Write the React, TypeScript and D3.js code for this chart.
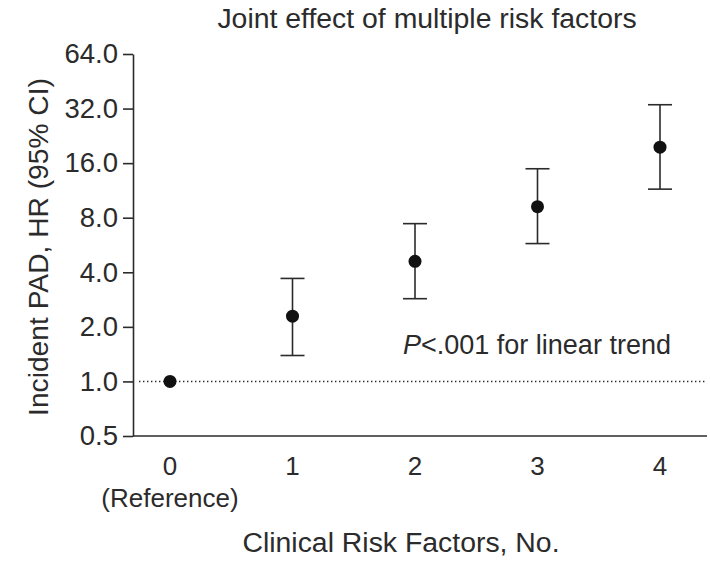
import React, { useEffect, useRef } from "react";
import * as d3 from "d3";

// Number of clinical risk factors
const categories = [0, 1, 2, 3, 4];
const categoryLabels = ["0", "1", "2", "3", "4"];
// hazard ratios and 95% CI
const hr = [1.0, 2.29, 4.6, 9.2, 19.6];
const ciLow = [1.0, 1.39, 2.86, 5.76, 11.5];
const ciHigh = [1.0, 3.7, 7.42, 14.9, 33.6];
const yTicks = [0.5, 1, 2, 4, 8, 16, 32, 64];

const FONT = "'Liberation Sans', Arial, Helvetica, sans-serif";
const INK = "#2b2b2b";

const App = () => {
  const ref = useRef<SVGSVGElement>(null);

  useEffect(() => {
    const width = 710;
    const height = 568;
    const left = 133;
    const right = 707;
    const top = 54;
    const bottom = 436;

    const svg = d3.select(ref.current);
    svg.selectAll("*").remove();
    svg.attr("width", width).attr("height", height);

    const x = d3.scaleLinear().domain([0, 4]).range([170, 660]);
    const y = d3.scaleLog().base(2).domain([0.5, 64]).range([bottom, top]);

    // title
    svg
      .append("text")
      .attr("x", 427)
      .attr("y", 28)
      .attr("text-anchor", "middle")
      .style("font-family", FONT)
      .style("font-size", "28.4px")
      .attr("fill", INK)
      .text("Joint effect of multiple risk factors");

    // reference line at HR 1.0
    svg
      .append("line")
      .attr("x1", left + 6)
      .attr("x2", right)
      .attr("y1", y(1))
      .attr("y2", y(1))
      .attr("stroke", INK)
      .attr("stroke-width", 1.6)
      .attr("stroke-dasharray", "1.4,2.6");

    // y axis
    const yAxis = svg
      .append("g")
      .attr("transform", `translate(${left},0)`)
      .call(
        d3
          .axisLeft(y)
          .tickValues(yTicks)
          .tickFormat(d3.format(".1f"))
          .tickSize(10)
          .tickPadding(5)
          .tickSizeOuter(0)
      );
    yAxis.select(".domain").attr("stroke", INK).attr("stroke-width", 1.6);
    yAxis.selectAll(".tick line").attr("stroke", INK).attr("stroke-width", 1.6);
    yAxis
      .selectAll(".tick text")
      .style("font-family", FONT)
      .style("font-size", "27.5px")
      .attr("fill", INK);

    // bottom axis line
    svg
      .append("line")
      .attr("x1", left)
      .attr("x2", right)
      .attr("y1", bottom)
      .attr("y2", bottom)
      .attr("stroke", INK)
      .attr("stroke-width", 1.6);

    // x tick labels
    svg
      .selectAll(".xlab")
      .data(categories)
      .enter()
      .append("text")
      .attr("class", "xlab")
      .attr("x", (d) => x(d))
      .attr("y", 475)
      .attr("text-anchor", "middle")
      .style("font-family", FONT)
      .style("font-size", "26px")
      .attr("fill", INK)
      .text((d, i) => categoryLabels[i]);

    svg
      .append("text")
      .attr("x", x(0))
      .attr("y", 507)
      .attr("text-anchor", "middle")
      .style("font-family", FONT)
      .style("font-size", "26px")
      .attr("fill", INK)
      .text("(Reference)");

    // axis titles
    svg
      .append("text")
      .attr("x", 401)
      .attr("y", 552)
      .attr("text-anchor", "middle")
      .style("font-family", FONT)
      .style("font-size", "28.4px")
      .attr("fill", INK)
      .text("Clinical Risk Factors, No.");

    svg
      .append("text")
      .attr("transform", `translate(48,247) rotate(-90)`)
      .attr("text-anchor", "middle")
      .style("font-family", FONT)
      .style("font-size", "28.2px")
      .attr("fill", INK)
      .text("Incident PAD, HR (95% CI)");

    // error bars (skip the reference group)
    const bars = categories.filter((d, i) => ciHigh[i] !== ciLow[i]);
    const g = svg.append("g").attr("stroke", INK).attr("stroke-width", 1.6);
    bars.forEach((d) => {
      const i = categories.indexOf(d);
      const cx = x(d);
      g.append("line").attr("x1", cx).attr("x2", cx).attr("y1", y(ciLow[i])).attr("y2", y(ciHigh[i]));
      g.append("line").attr("x1", cx - 12).attr("x2", cx + 12).attr("y1", y(ciLow[i])).attr("y2", y(ciLow[i]));
      g.append("line").attr("x1", cx - 12).attr("x2", cx + 12).attr("y1", y(ciHigh[i])).attr("y2", y(ciHigh[i]));
    });

    // points
    svg
      .selectAll("circle")
      .data(categories)
      .enter()
      .append("circle")
      .attr("cx", (d) => x(d))
      .attr("cy", (d, i) => y(hr[i]))
      .attr("r", 6.5)
      .attr("fill", "#111");

    // trend annotation
    const note = svg
      .append("text")
      .attr("x", 403)
      .attr("y", 354)
      .style("font-family", FONT)
      .style("font-size", "27px")
      .attr("fill", INK);
    note.append("tspan").style("font-style", "italic").text("P");
    note.append("tspan").text("<.001 for linear trend");
  }, []);

  return (
    <div style={{ position: "absolute", left: 0, top: 0 }}>
      <svg ref={ref} width="710" height="568"></svg>
    </div>
  );
};

export default App;
